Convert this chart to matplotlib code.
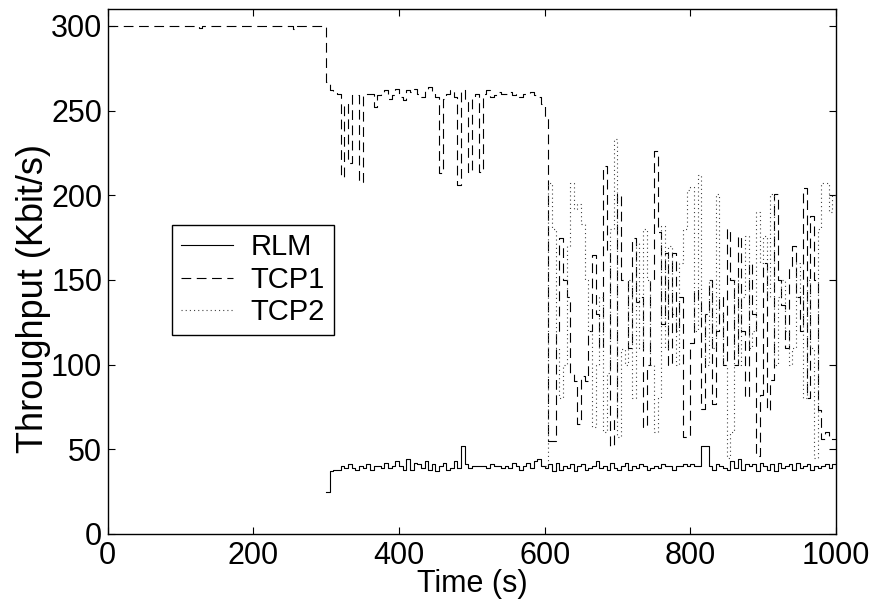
import numpy as np
import matplotlib
matplotlib.use("Agg")
import matplotlib.pyplot as plt

plt.rcParams['font.family'] = ['Liberation Sans', 'DejaVu Sans']
plt.rcParams['lines.scale_dashes'] = False

# --- data (Kbit/s), 5 s bins ---
tcp1_early_t = [0, 125, 130, 255, 260]
tcp1_early_v = [300, 299, 300, 298, 300]

tcp1_t = np.arange(300, 1000, 5)
tcp1_v = [
    267, 262, 261, 260, 211, 254, 219, 259, 259, 208,
    259, 260, 260, 252, 259, 261, 262, 257, 259, 263,
    258, 256, 262, 261, 263, 260, 258, 262, 264, 261,
    258, 213, 257, 260, 262, 258, 206, 262, 255, 214,
    257, 260, 214, 260, 262, 258, 259, 261, 260, 260,
    261, 259, 260, 258, 260, 260, 261, 259, 258, 254,
    246, 55, 55, 120, 175, 150, 140, 95, 90, 65,
    93, 90, 120, 165, 130, 110, 217, 166, 52, 68,
    201, 150, 150, 110, 175, 137, 140, 63, 100, 150,
    226, 178, 124, 166, 100, 166, 120, 140, 57, 57,
    113, 144, 137, 74, 130, 150, 77, 120, 140, 100,
    180, 150, 100, 176, 120, 81, 160, 130, 46, 82,
    160, 73, 91, 201, 150, 135, 110, 158, 170, 140,
    120, 204, 80, 188, 150, 73, 56, 60, 56, 56,
]

tcp2_t = np.arange(600, 1000, 5)
tcp2_v = [
    40, 207, 180, 110, 80, 100, 170, 207, 192, 195,
    183, 150, 120, 63, 100, 140, 60, 95, 180, 233,
    57, 109, 100, 150, 80, 172, 110, 180, 150, 100,
    60, 80, 182, 110, 170, 130, 100, 160, 180, 203,
    205, 120, 212, 130, 100, 150, 110, 201, 130, 100,
    45, 60, 150, 100, 140, 176, 110, 120, 190, 160,
    176, 140, 201, 100, 140, 150, 120, 100, 110, 160,
    140, 80, 150, 110, 45, 180, 207, 207, 190, 200,
]

rlm_t = np.arange(300, 1000, 5)
rlm_v = [
    25, 37, 38, 38, 40, 39, 41, 39, 38, 40,
    39, 41, 38, 40, 40, 39, 42, 39, 40, 43,
    40, 38, 44, 38, 42, 41, 39, 43, 38, 41,
    37, 40, 42, 38, 39, 43, 39, 52, 41, 39,
    40, 40, 40, 40, 39, 41, 40, 40, 39, 40,
    39, 42, 40, 38, 40, 42, 39, 43, 44, 40,
    39, 41, 37, 42, 38, 40, 39, 41, 37, 40,
    41, 38, 39, 40, 43, 39, 40, 38, 42, 39,
    38, 40, 42, 38, 40, 39, 41, 40, 38, 39,
    40, 39, 41, 40, 40, 38, 40, 40, 41, 40,
    41, 40, 40, 52, 52, 40, 38, 41, 40, 39,
    38, 43, 39, 44, 38, 41, 40, 41, 37, 42,
    40, 38, 41, 37, 42, 39, 40, 41, 38, 42,
    39, 40, 41, 38, 40, 39, 40, 41, 39, 41,
]

t_end = 1000


def stairs(t, v):
    t = np.append(np.asarray(t, dtype=float), t_end)
    v = np.append(np.asarray(v, dtype=float), v[-1])
    return t, v


fig = plt.figure(figsize=(8.85, 6.04), dpi=100)
ax = fig.add_axes([0.1217, 0.1161, 0.8229, 0.8690])

x, y = stairs(rlm_t, rlm_v)
ax.step(x, y, where='post', color='black', lw=0.8, label='RLM')

x, y = stairs(list(tcp1_early_t) + list(tcp1_t), list(tcp1_early_v) + list(tcp1_v))
ax.step(x, y, where='post', color='black', lw=0.8, dashes=(7, 4), label='TCP1')

x, y = stairs(tcp2_t, tcp2_v)
ax.step(x, y, where='post', color='#444444', lw=0.8, dashes=(0.8, 2.2), label='TCP2')

ax.set_xlim(0, 1000)
ax.set_ylim(0, 310)
ax.set_xticks(np.arange(0, 1001, 200))
ax.set_yticks(np.arange(0, 301, 50))
ax.tick_params(direction='in', top=True, right=True, length=5, width=0.8,
               labelsize=22)
ax.tick_params(axis='x', pad=5)
ax.tick_params(axis='y', pad=4)
for s in ax.spines.values():
    s.set_linewidth(1.0)

ax.set_xlabel('Time (s)', fontsize=22)
ax.set_ylabel('Throughput (Kbit/s)', fontsize=26)
ax.xaxis.set_label_coords(0.5, -0.067)
ax.yaxis.set_label_coords(-0.078, 0.449)

leg = ax.legend(loc='upper left', bbox_to_anchor=(0.088, 0.589), borderaxespad=0,
                fontsize=21, fancybox=False, framealpha=1, edgecolor='black',
                handlelength=1.8, handletextpad=0.6, labelspacing=0.15,
                borderpad=0.3)
leg.get_frame().set_linewidth(1.0)

fig.savefig('out.png', dpi=100)
